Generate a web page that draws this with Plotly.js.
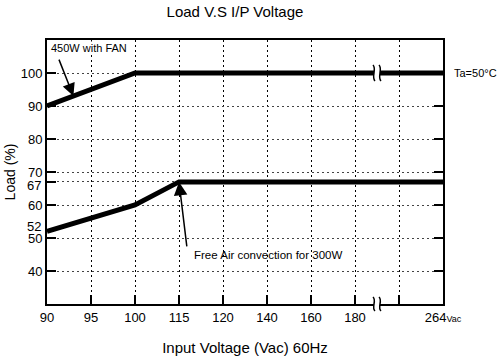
<!DOCTYPE html>
<html>
<head>
<meta charset="utf-8">
<script src="https://cdn.plot.ly/plotly-3.0.1.min.js"></script>
<style>html,body{margin:0;padding:0;background:#fff;}#chart{width:500px;height:361px;}</style>
</head>
<body>
<div id="chart"></div>
<script>
// Input voltage categories (evenly spaced on the axis, with an unlabeled slot before the break)
var voltageCategories = ['90', '95', '100', '115', '120', '140', '160', '180', 'gap', '264'];
var voltageTickLabels = ['90', '95', '100', '115', '120', '140', '160', '180', '', '264<span style="font-size:9px">Vac</span>'];

// Load tick values and labels (67 and 52 labels are placed as offset annotations to avoid overlap)
var loadTicks = [40, 50, 60, 67, 70, 80, 90, 100];
var loadTickLabels = ['40', '50', '60', '', '70', '80', '90', '100'];

// 450W with FAN curve
var fanVoltage = ['90', '100', '264'];
var fanLoad = [90, 100, 100];

// Free air convection for 300W curve
var freeVoltage = ['90', '100', '115', '264'];
var freeLoad = [52, 60, 67, 67];

var FONT = 'Liberation Sans, Arial, Helvetica, sans-serif';

var traces = [
  { x: voltageCategories, y: voltageCategories.map(function () { return null; }),
    type: 'scatter', mode: 'lines', hoverinfo: 'skip', showlegend: false },
  { x: fanVoltage, y: fanLoad, type: 'scatter', mode: 'lines',
    line: { color: '#000', width: 5 }, showlegend: false },
  { x: freeVoltage, y: freeLoad, type: 'scatter', mode: 'lines',
    line: { color: '#000', width: 5 }, showlegend: false }
];

function breakMark(xa, ya, yRef, half) {
  var s = [];
  s.push({ type: 'path', xref: 'x', yref: yRef, xsizemode: 'pixel', ysizemode: 'pixel',
    xanchor: xa, yanchor: ya, path: 'M -3,-4 L 3,-4 L 3,4 L -3,4 Z',
    fillcolor: '#fff', line: { width: 0 }, layer: 'above' });
  [-3, 3].forEach(function (dx) {
    s.push({ type: 'path', xref: 'x', yref: yRef, xsizemode: 'pixel', ysizemode: 'pixel',
      xanchor: xa, yanchor: ya,
      path: 'M ' + (dx - 1) + ',' + half + ' C ' + (dx + 3) + ',' + (half / 2) + ' ' + (dx - 3) + ',' + (-half / 2) + ' ' + (dx + 1) + ',' + (-half),
      line: { color: '#000', width: 1.5 }, layer: 'above' });
  });
  return s;
}

var shapes = [].concat(breakMark(7.5, 100, 'y', 8), breakMark(7.5, 0, 'paper', 7));

var layout = {
  width: 500, height: 361,
  margin: { l: 47, r: 57, t: 40, b: 57 },
  paper_bgcolor: '#fff', plot_bgcolor: '#fff',
  font: { family: FONT, color: '#000', size: 13 },
  showlegend: false,
  title: { text: 'Load V.S I/P Voltage', font: { family: FONT, size: 15, color: '#000' },
    x: 0.47, xanchor: 'center', xref: 'container', y: 0.968, yanchor: 'middle', yref: 'container' },
  xaxis: {
    type: 'category', categoryorder: 'array', categoryarray: voltageCategories,
    range: [0, 9], tickmode: 'array', tickvals: voltageCategories, ticktext: voltageTickLabels,
    showgrid: true, gridcolor: '#000', gridwidth: 1, griddash: '2px,3px',
    ticks: 'inside', ticklen: 9, tickwidth: 1.5, tickcolor: '#000',
    showline: true, linecolor: '#000', linewidth: 2, mirror: true,
    zeroline: false, tickfont: { family: FONT, size: 13, color: '#000' },
    title: { text: 'Input Voltage (Vac) 60Hz', font: { family: FONT, size: 15, color: '#000' }, standoff: 19 },
    fixedrange: true
  },
  yaxis: {
    range: [30, 110], tickmode: 'array', tickvals: loadTicks, ticktext: loadTickLabels,
    showgrid: true, gridcolor: '#444', gridwidth: 1, griddash: '2px,3px',
    ticks: 'inside', ticklen: 9, tickwidth: 1.5, tickcolor: '#000',
    showline: true, linecolor: '#000', linewidth: 2, mirror: 'ticks',
    zeroline: false, tickfont: { family: FONT, size: 13, color: '#000' },
    title: { text: 'Load (%)', font: { family: FONT, size: 14, color: '#000' }, standoff: 2 },
    fixedrange: true
  },
  shapes: shapes,
  annotations: [
    { text: '52', xref: 'paper', x: 0, xanchor: 'right', xshift: -4, yref: 'y', y: 52, yshift: 5,
      showarrow: false, font: { family: FONT, size: 13, color: '#000' } },
    { text: '67', xref: 'paper', x: 0, xanchor: 'right', xshift: -4, yref: 'y', y: 67, yshift: -4,
      showarrow: false, font: { family: FONT, size: 13, color: '#000' } },
    { text: '450W with FAN', xref: 'x', x: 0, xanchor: 'left', xshift: 3, yref: 'paper', y: 1, yanchor: 'top',
      yshift: -1, showarrow: false, bgcolor: '#fff', borderpad: 0, font: { family: FONT, size: 11, color: '#000' } },
    { text: '', xref: 'x', yref: 'y', x: 0.6, y: 93, ax: -15, ay: -38, showarrow: true,
      arrowhead: 2, arrowsize: 1.7, arrowwidth: 1.5, arrowcolor: '#000', standoff: 0 },
    { text: 'Free Air convection for 300W', xref: 'x', x: 3, xanchor: 'left', xshift: 13, yref: 'y', y: 45,
      yanchor: 'middle', showarrow: false, font: { family: FONT, size: 11.5, color: '#000' } },
    { text: '', xref: 'x', yref: 'y', x: 3, y: 67, ax: 8, ay: 66, showarrow: true,
      arrowhead: 2, arrowsize: 1.8, arrowwidth: 1.5, arrowcolor: '#000', standoff: 0 },
    { text: 'Ta=50°C', xref: 'paper', x: 1, xanchor: 'left', xshift: 9, yref: 'y', y: 100,
      showarrow: false, font: { family: FONT, size: 11, color: '#000' } }
  ]
};

Plotly.newPlot('chart', traces, layout, { staticPlot: true, displayModeBar: false });
</script>
</body>
</html>
